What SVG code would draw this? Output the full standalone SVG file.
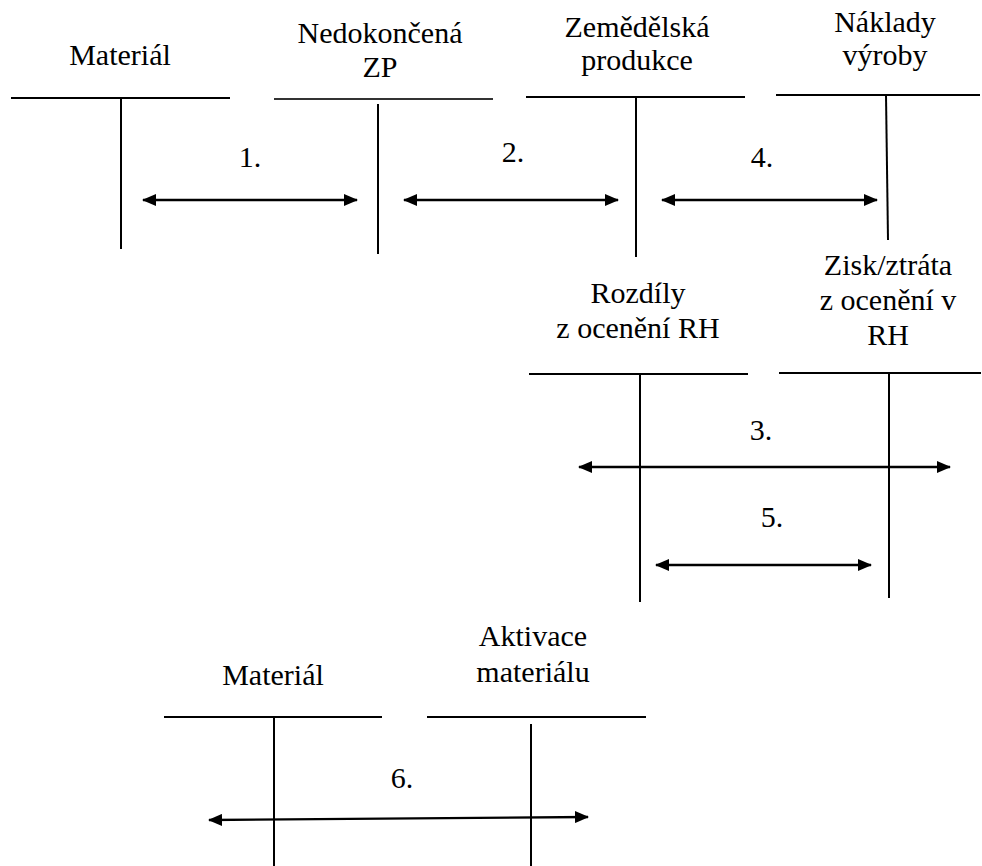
<svg xmlns="http://www.w3.org/2000/svg" width="982" height="866" viewBox="0 0 982 866">
  <style>
    .acct line { stroke: #000; stroke-width: 2; }
    text { font-family: "Liberation Serif", "Times New Roman", serif; font-size: 30px; fill: #000; text-anchor: middle; }
    .flow line { stroke: #000; stroke-width: 2.4; }
  </style>
  <defs>
    <marker id="head" viewBox="0 0 14 12" refX="13" refY="6" markerWidth="14" markerHeight="12" markerUnits="userSpaceOnUse" orient="auto-start-reverse">
      <path d="M0,0 L14,6 L0,12 Z" fill="#000"/>
    </marker>
  </defs>

  <rect width="982" height="866" fill="#fff"/>

  <!-- T-accounts -->
  <g id="material" class="acct">
    <text x="120" y="65">Materiál</text>
    <line x1="11" y1="98" x2="230" y2="98"/>
    <line x1="121" y1="98" x2="121" y2="249"/>
  </g>
  <g id="nedokoncena-zp" class="acct">
    <text x="380" y="43">Nedokončená</text>
    <text x="380" y="77">ZP</text>
    <line x1="274" y1="99" x2="493" y2="99" style="stroke:#333"/>
    <line x1="378" y1="104" x2="378" y2="254"/>
  </g>
  <g id="zemedelska-produkce" class="acct">
    <text x="637" y="37">Zemědělská</text>
    <text x="637" y="70">produkce</text>
    <line x1="526" y1="97" x2="745" y2="97"/>
    <line x1="636" y1="97" x2="636" y2="257"/>
  </g>
  <g id="naklady-vyroby" class="acct">
    <text x="885" y="32">Náklady</text>
    <text x="885" y="65">výroby</text>
    <line x1="776" y1="95" x2="980" y2="95"/>
    <line x1="886" y1="95" x2="888" y2="240"/>
  </g>
  <g id="rozdily-z-oceneni" class="acct">
    <text x="638" y="303">Rozdíly</text>
    <text x="638" y="338">z ocenění RH</text>
    <line x1="529" y1="374" x2="748" y2="374"/>
    <line x1="640" y1="374" x2="640" y2="602"/>
  </g>
  <g id="zisk-ztrata" class="acct">
    <text x="888" y="275">Zisk/ztráta</text>
    <text x="888" y="310">z ocenění v</text>
    <text x="888" y="345">RH</text>
    <line x1="779" y1="373" x2="981" y2="373"/>
    <line x1="889" y1="373" x2="889" y2="598"/>
  </g>
  <g id="material-2" class="acct">
    <text x="273" y="685">Materiál</text>
    <line x1="164" y1="717" x2="382" y2="717"/>
    <line x1="274" y1="717" x2="274" y2="866"/>
  </g>
  <g id="aktivace-materialu" class="acct">
    <text x="533" y="646">Aktivace</text>
    <text x="533" y="682">materiálu</text>
    <line x1="427" y1="717" x2="646" y2="717"/>
    <line x1="531" y1="724" x2="531" y2="866"/>
  </g>

  <!-- Postings between accounts -->
  <g id="connectors" class="flow">
    <line x1="143" y1="200" x2="357" y2="200" marker-start="url(#head)" marker-end="url(#head)"/>
    <line x1="404" y1="200" x2="618" y2="200" marker-start="url(#head)" marker-end="url(#head)"/>
    <line x1="662" y1="200" x2="877" y2="200" marker-start="url(#head)" marker-end="url(#head)"/>
    <line x1="579" y1="467" x2="950" y2="467" marker-start="url(#head)" marker-end="url(#head)"/>
    <line x1="656" y1="565" x2="871" y2="565" marker-start="url(#head)" marker-end="url(#head)"/>
    <line x1="209" y1="820" x2="588" y2="817" marker-start="url(#head)" marker-end="url(#head)"/>
    <text x="250" y="167">1.</text>
    <text x="513" y="162">2.</text>
    <text x="762" y="167">4.</text>
    <text x="761" y="440">3.</text>
    <text x="772" y="527">5.</text>
    <text x="402" y="788">6.</text>
  </g>
</svg>
